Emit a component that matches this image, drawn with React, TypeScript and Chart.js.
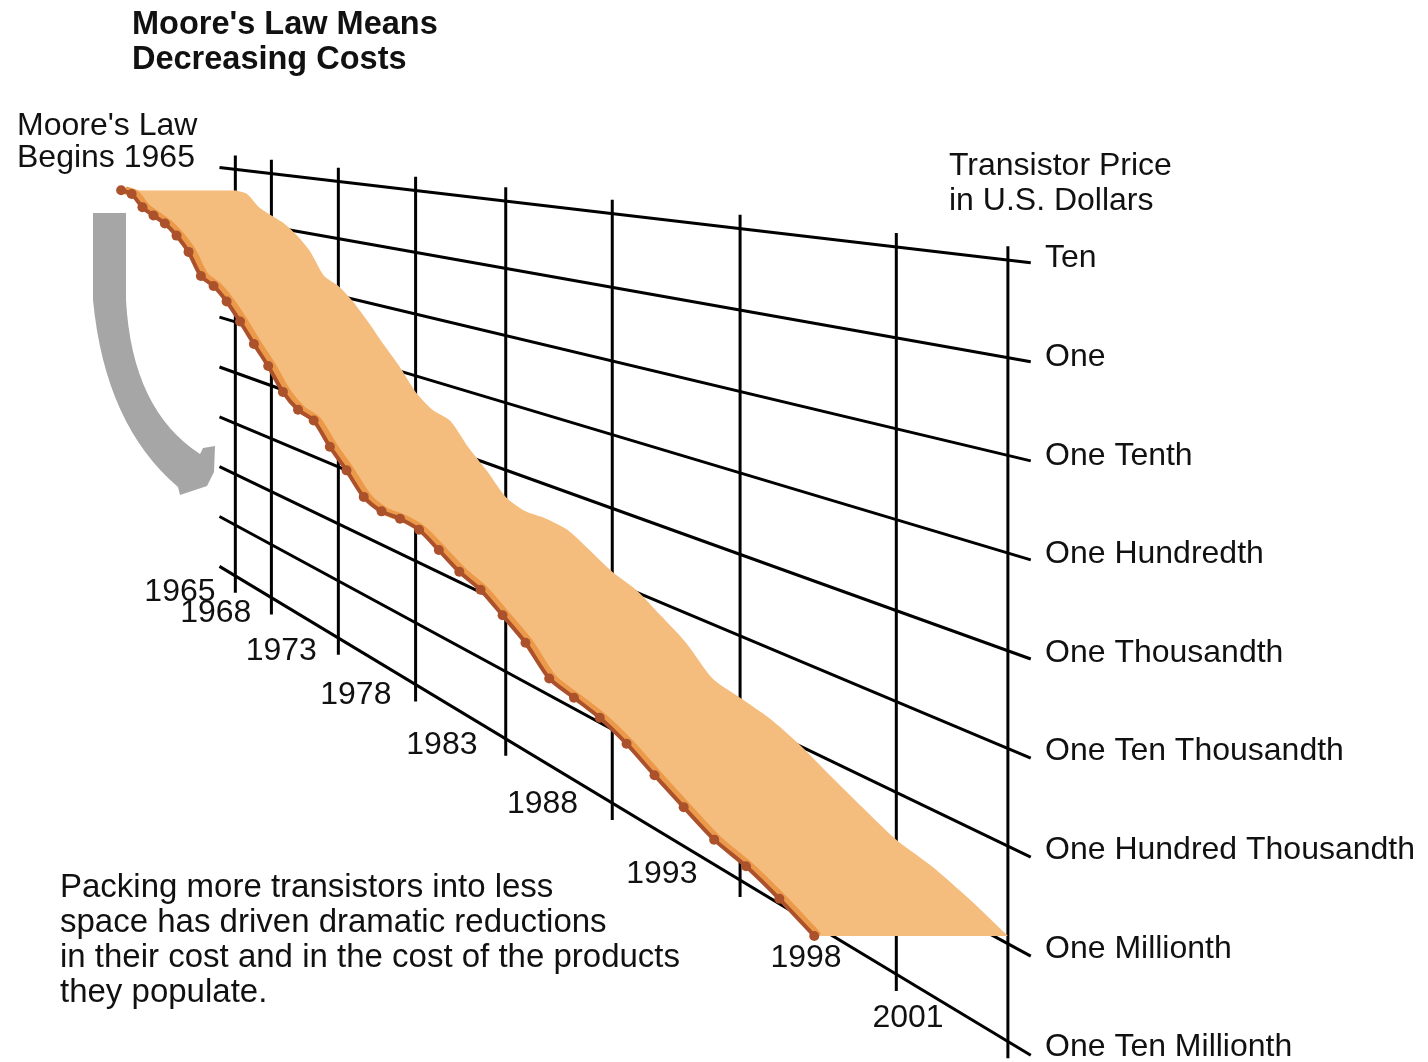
import React, { useEffect, useRef } from 'react';
import { Chart, registerables } from 'chart.js';

Chart.register(...registerables);

// ---------------- data ----------------
const years = [
  1965, 1966, 1967, 1968, 1969, 1970, 1971, 1972, 1973, 1974, 1975, 1976, 1977,
  1978, 1979, 1980, 1981, 1982, 1983, 1984, 1985, 1986, 1987, 1988, 1989, 1990,
  1991, 1992, 1993, 1994, 1995, 1996, 1997, 1998, 1999, 2000, 2001,
];
// transistor price, log10 of US dollars
const priceLog10 = [
  0.59, 0.55, 0.33, 0.21, 0.1, -0.08, -0.33, -0.71, -0.83, -1.04, -1.32, -1.63,
  -1.92, -2.26, -2.46, -2.54, -2.85, -3.11, -3.4, -3.5, -3.49, -3.53, -3.69,
  -3.86, -3.97, -4.17, -4.38, -4.68, -4.76, -4.84, -4.98, -5.17, -5.35, -5.52,
  -5.61, -5.75, -5.92,
];
const gridYears = [1965, 1968, 1973, 1978, 1983, 1988, 1993, 1998, 2001];
const priceLevels = [1, 0, -1, -2, -3, -4, -5, -6, -7];
const priceLabels = [
  'Ten', 'One', 'One Tenth', 'One Hundredth', 'One Thousandth',
  'One Ten Thousandth', 'One Hundred Thousandth', 'One Millionth', 'One Ten Millionth',
];
const titleLines = ["Moore's Law Means", 'Decreasing Costs'];
const startNoteLines = ["Moore's Law", 'Begins 1965'];
const axisTitleLines = ['Transistor Price', 'in U.S. Dollars'];
const captionLines = [
  'Packing more transistors into less',
  'space has driven dramatic reductions',
  'in their cost and in the cost of the products',
  'they populate.',
];

// ---------------- geometry (perspective plane) ----------------
const W = 1428;
const H = 1062;
const PERSP = { vanishX: -675.7, depth: 70798, horizonYear: 2043 };
const PLANE = {
  left: { x: 232, top: 166, step: 51.3 },
  right: { x: 1010, top: 257.5, step: 98.6 },
  topLevel: 1,
};
const GRID = { xStart: 216, xEnd: 1033, overTop: 14, underBottom: 17 };
const EXTRUDE = { base: 115, grow: 80 };

const yearToX = (t: number) => PERSP.vanishX + PERSP.depth / (PERSP.horizonYear - t);
const frac = (x: number) => (x - PLANE.left.x) / (PLANE.right.x - PLANE.left.x);
const planeY = (lg: number, x: number) => {
  const k = PLANE.topLevel - lg;
  const y0 = PLANE.left.top + k * PLANE.left.step;
  const y1 = PLANE.right.top + k * PLANE.right.step;
  return y0 + frac(x) * (y1 - y0);
};
const project = (t: number, lg: number) => {
  const x = yearToX(t);
  return { x, y: planeY(lg, x) };
};

const COLORS = {
  grid: '#000000',
  ribbon: '#F4BD7E',
  band: '#EC9A4A',
  dots: '#AB512B',
  arrow: '#A6A6A6',
  text: '#111111',
};
const FONT = '"Liberation Sans", Arial, Helvetica, sans-serif';

export default function App() {
  const ref = useRef<HTMLCanvasElement>(null);

  useEffect(() => {
    const canvas = ref.current;
    if (!canvas) return;

    const datasets: any[] = [];
    const base = {
      pointRadius: 0,
      pointHoverRadius: 0,
      pointHitRadius: 0,
      fill: false,
      clip: false,
      tension: 0,
    };

    // price level lines of the tilted plane
    priceLevels.forEach((lv) => {
      datasets.push({
        ...base,
        data: [GRID.xStart, GRID.xEnd].map((x) => ({ x, y: planeY(lv, x) })),
        borderColor: COLORS.grid,
        borderWidth: 3,
        order: 10,
      });
    });
    // year lines
    const topLv = priceLevels[0];
    const botLv = priceLevels[priceLevels.length - 1];
    gridYears.forEach((t) => {
      const x = yearToX(t);
      datasets.push({
        ...base,
        data: [
          { x, y: planeY(topLv, x) - GRID.overTop },
          { x, y: planeY(botLv, x) + GRID.underBottom },
        ],
        borderColor: COLORS.grid,
        borderWidth: 3,
        order: 10,
      });
    });

    // ribbon: price curve on the plane, and its extruded front edge
    const curve = years.map((t, i) => project(t, priceLog10[i]));
    const front = curve.map((p) => ({
      x: p.x - (EXTRUDE.base + EXTRUDE.grow * frac(p.x)),
      y: p.y,
    }));
    const frontIndex = datasets.length + 1;
    datasets.push({
      ...base,
      data: curve,
      borderWidth: 0,
      borderColor: COLORS.ribbon,
      backgroundColor: COLORS.ribbon,
      fill: frontIndex,
      tension: 0.25,
      order: 5,
    });
    datasets.push({
      ...base,
      data: front,
      borderWidth: 0,
      borderColor: COLORS.ribbon,
      tension: 0.25,
      order: 5,
    });
    datasets.push({
      ...base,
      data: front.map((p) => ({ x: p.x + 4, y: p.y })),
      borderWidth: 8,
      borderColor: COLORS.band,
      tension: 0.25,
      order: 2,
    });
    datasets.push({
      ...base,
      data: front,
      borderWidth: 4,
      borderColor: COLORS.dots,
      pointRadius: 5,
      pointBackgroundColor: COLORS.dots,
      pointBorderWidth: 0,
      tension: 0.25,
      order: 1,
    });

    const decor = {
      id: 'decor',
      afterDatasetsDraw(chart: any) {
        const ctx = chart.ctx as CanvasRenderingContext2D;
        ctx.save();
        // gray curved arrow
        ctx.fillStyle = COLORS.arrow;
        ctx.beginPath();
        ctx.moveTo(93, 213);
        ctx.lineTo(126, 213);
        ctx.lineTo(126, 300);
        ctx.quadraticCurveTo(132, 410, 200, 454);
        ctx.lineTo(203, 448);
        ctx.lineTo(215, 446);
        ctx.lineTo(214, 472);
        ctx.lineTo(207, 486);
        ctx.lineTo(180, 495);
        ctx.lineTo(178, 487);
        ctx.quadraticCurveTo(105, 425, 93, 300);
        ctx.closePath();
        ctx.fill();

        ctx.fillStyle = COLORS.text;
        ctx.textBaseline = 'alphabetic';
        ctx.textAlign = 'left';
        ctx.font = `bold 32.5px ${FONT}`;
        titleLines.forEach((s, i) => ctx.fillText(s, 132, 34 + i * 35));
        ctx.font = `32px ${FONT}`;
        startNoteLines.forEach((s, i) => ctx.fillText(s, 17, 135 + i * 32));
        axisTitleLines.forEach((s, i) => ctx.fillText(s, 949, 175 + i * 35));
        ctx.font = `33px ${FONT}`;
        captionLines.forEach((s, i) => ctx.fillText(s, 60, 897 + i * 35));

        // price labels at the right edge of the plane
        ctx.font = `32px ${FONT}`;
        ctx.textBaseline = 'middle';
        priceLevels.forEach((lv, i) => {
          ctx.fillText(priceLabels[i], 1045, planeY(lv, PLANE.right.x) + 1);
        });

        // year labels under the front edge of the plane
        ctx.textAlign = 'center';
        gridYears.forEach((t) => {
          const x = yearToX(t);
          const f = Math.min(1, Math.max(0, frac(x)));
          const cx = x - 52 - 50 * Math.pow(f, 1.5);
          ctx.fillText(String(t), cx, planeY(botLv, cx) + 47 - 14 * f);
        });
        ctx.restore();
      },
    };

    const chart = new Chart(canvas, {
      type: 'line',
      data: { datasets },
      options: {
        animation: false,
        responsive: false,
        maintainAspectRatio: false,
        indexAxis: 'y',
        events: [],
        layout: { padding: 0 },
        plugins: {
          legend: { display: false },
          tooltip: { enabled: false },
          title: { display: false },
        },
        scales: {
          x: { type: 'linear', min: 0, max: W, display: false },
          y: { type: 'linear', min: 0, max: H, reverse: true, display: false },
        },
      } as any,
      plugins: [decor],
    });
    return () => chart.destroy();
  }, []);

  return (
    <div style={{ position: 'absolute', left: 0, top: 0, width: W, height: H, background: '#fff' }}>
      <canvas ref={ref} width={W} height={H} style={{ display: 'block' }} />
    </div>
  );
}
